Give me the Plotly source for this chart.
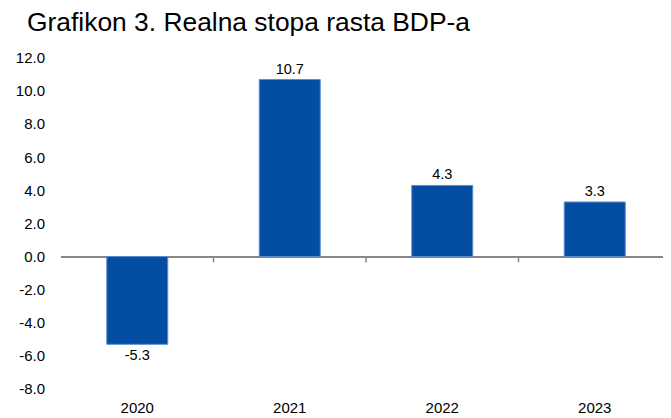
import plotly.graph_objects as go

years = ["2020", "2021", "2022", "2023"]
growth = [-5.3, 10.7, 4.3, 3.3]
labels = ["-5.3", "10.7", "4.3", "3.3"]
y_ticks = [-8, -6, -4, -2, 0, 2, 4, 6, 8, 10, 12]
y_tick_text = [f"{v:.1f}" for v in y_ticks]
title = "Grafikon 3. Realna stopa rasta BDP-a"

font = "Liberation Sans, Arial, sans-serif"

fig = go.Figure()
fig.add_trace(go.Bar(
    x=list(range(len(years))), y=growth, text=labels,
    textposition="outside", cliponaxis=False,
    textfont=dict(family=font, size=14.5, color="#000000"),
    marker=dict(color="#034EA2", line=dict(color="#5B8FD0", width=1)),
    width=0.4,
))

# category separator tick marks on the zero line
shapes = []
for b in [0.5, 1.5, 2.5]:
    shapes.append(dict(type="line", xref="x", yref="y", x0=b, x1=b, y0=0, y1=-0.35,
                       line=dict(color="#888888", width=1.5)))

fig.update_layout(
    width=671, height=418,
    margin=dict(l=47, r=8, t=50, b=37),
    paper_bgcolor="white", plot_bgcolor="white",
    showlegend=False,
    title=dict(text=title, x=19/671, xanchor="left", y=1-14/418, yanchor="middle",
               font=dict(family=font, size=26.4, color="#000000")),
    font=dict(family=font, size=15, color="#000000"),
    shapes=shapes,
    xaxis=dict(range=[-0.5, 3.5], tickmode="array", tickvals=list(range(len(years))),
               ticktext=years, showgrid=False, showline=False, zeroline=False,
               ticks="", ticklabelstandoff=8, tickfont=dict(family=font, size=15)),
    yaxis=dict(range=[-8, 12], tickmode="array", tickvals=y_ticks, ticktext=y_tick_text,
               showgrid=False, showline=False, zeroline=True, zerolinecolor="#888888",
               zerolinewidth=1.5, ticks="", ticklabelstandoff=15,
               tickfont=dict(family=font, size=15)),
)

fig.write_html("out.html")
